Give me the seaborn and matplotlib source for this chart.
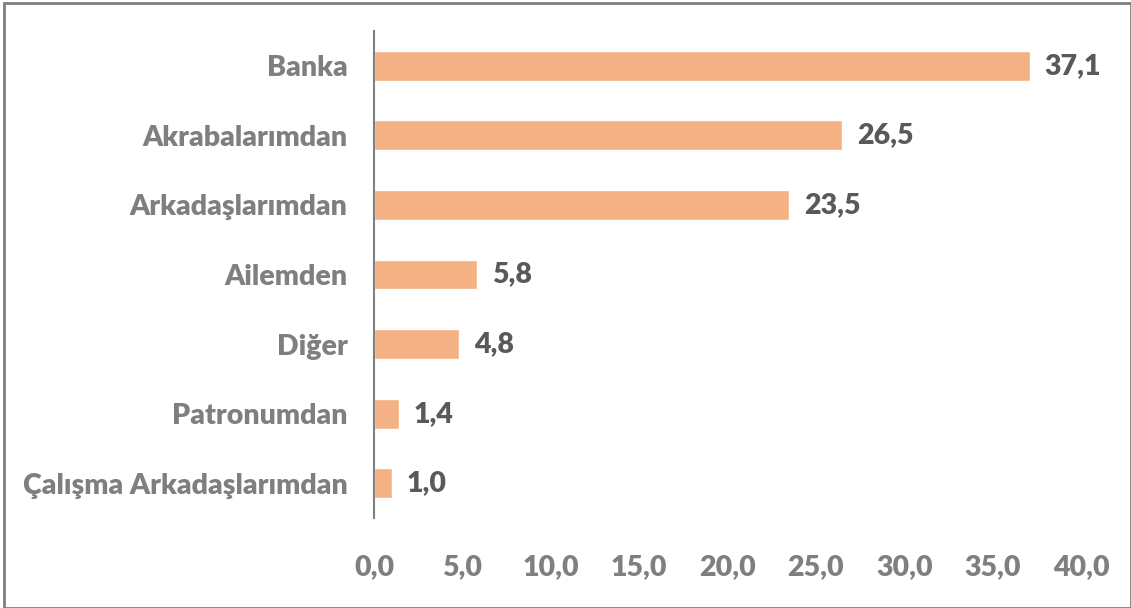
import matplotlib
matplotlib.use("Agg")
import matplotlib.pyplot as plt
import seaborn as sns
import pandas as pd
from matplotlib.patches import Rectangle

categories = ["Banka", "Akrabalarımdan", "Arkadaşlarımdan", "Ailemden", "Diğer",
              "Patronumdan", "Çalışma Arkadaşlarımdan"]
values = [37.1, 26.5, 23.5, 5.8, 4.8, 1.4, 1.0]
xticks = [0, 5, 10, 15, 20, 25, 30, 35, 40]

sns.set_theme(style="white")
plt.rcParams['font.family'] = ['Lato', 'DejaVu Sans']

df = pd.DataFrame({"cat": categories, "val": values})

FS = 20.5
W = "heavy"

fig = plt.figure(figsize=(11.31, 6.08), dpi=100)
ax = fig.add_axes([0.3307, 0.148, 0.6251, 0.801])
sns.barplot(data=df, y="cat", x="val", orient="h", color="#F4B183",
            saturation=1, width=0.43, ax=ax)

ax.set_xlim(0, 40)
ax.set_xticks(xticks)
ax.set_xticklabels([f"{t:.1f}".replace(".", ",") for t in xticks])
ax.set_xlabel("")
ax.set_ylabel("")
for s in ["top", "right", "bottom"]:
    ax.spines[s].set_visible(False)
ax.spines["left"].set_color("#808080")
ax.spines["left"].set_linewidth(1.5)
ax.tick_params(axis="both", length=0, colors="#7F7F7F", labelsize=FS)
ax.tick_params(axis="y", pad=19)
ax.tick_params(axis="x", pad=26)
for lbl in ax.get_xticklabels() + ax.get_yticklabels():
    lbl.set_fontweight(W)
    lbl.set_color("#7F7F7F")

for i, v in enumerate(values):
    ax.text(v + 0.85, i, f"{v:.1f}".replace(".", ","), va="center", ha="left",
            fontsize=FS, fontweight=W, color="#595959")

fig.patches.append(Rectangle((0.0035, 0.0), 0.9965, 0.995, transform=fig.transFigure,
                             fill=False, edgecolor="#7F7F7F", linewidth=2))

fig.savefig("out.png", dpi=100)
